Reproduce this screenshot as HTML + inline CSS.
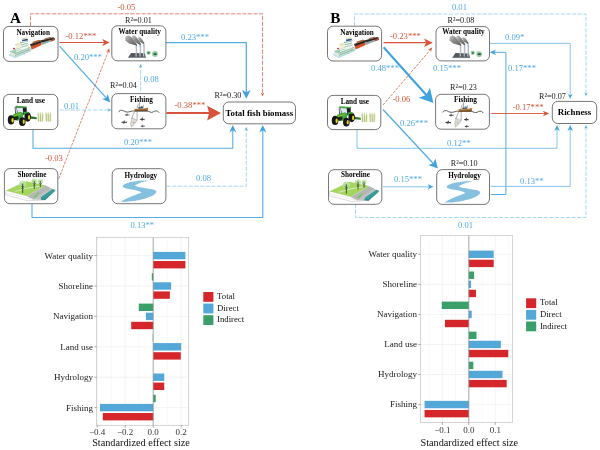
<!DOCTYPE html>
<html><head><meta charset="utf-8"><title>Figure</title>
<style>
html,body{margin:0;padding:0;background:#fff;}
body{width:600px;height:450px;overflow:hidden;font-family:"Liberation Serif",serif;}
svg{display:block;will-change:transform;font-family:"Liberation Serif",serif;}
</style></head><body>
<svg width="600" height="450" viewBox="0 0 600 450">

<text x="10" y="23.2" font-size="15.2" text-anchor="start" fill="#000" font-weight="700">A</text>
<path d="M30.50,26.00 L30.50,13.80 L262.50,13.80 L262.50,93.91" fill="none" stroke="#D7543A" stroke-width="0.7" stroke-dasharray="4.2 1.4"/>
<polygon points="262.50,96.30 260.70,92.50 262.50,93.64 264.30,92.50" fill="#D7543A"/>
<path d="M59.50,42.50 L104.67,42.50" fill="none" stroke="#D7543A" stroke-width="1.2"/>
<polygon points="109.60,42.50 102.30,46.10 104.12,42.50 102.30,38.90" fill="#D7543A"/>
<path d="M59.50,46.20 L106.68,98.39" fill="none" stroke="#52ABE1" stroke-width="1.2"/>
<polygon points="110.30,102.40 102.12,99.01 106.28,97.95 107.75,93.92" fill="#3FA3DE"/>
<path d="M58.70,178.80 L108.44,50.97" fill="none" stroke="#D7543A" stroke-width="0.7" stroke-dasharray="2.9 1.05"/>
<polygon points="109.40,48.50 109.65,53.10 108.33,51.24 106.11,51.73" fill="#D7543A"/>
<path d="M59.50,110.00 L108.91,110.00" fill="none" stroke="#93CDF0" stroke-width="0.8" stroke-dasharray="4.2 1.4"/>
<polygon points="111.30,110.00 107.50,111.80 108.64,110.00 107.50,108.20" fill="#58AFE4"/>
<path d="M140.60,91.00 L140.60,66.39" fill="none" stroke="#93CDF0" stroke-width="0.8" stroke-dasharray="4.2 1.4"/>
<polygon points="140.60,64.00 142.40,67.80 140.60,66.66 138.80,67.80" fill="#58AFE4"/>
<path d="M166.00,42.50 L246.30,42.50 L246.30,92.93" fill="none" stroke="#52ABE1" stroke-width="1.25"/>
<polygon points="246.30,98.80 241.95,90.10 246.30,92.27 250.65,90.10" fill="#3FA3DE"/>
<path d="M166.50,113.10 L210.34,113.10" fill="none" stroke="#D7543A" stroke-width="2.0"/>
<polygon points="220.90,113.10 207.10,120.40 209.17,113.10 207.10,105.80" fill="#D7543A"/>
<path d="M33.00,130.00 L33.00,148.30 L232.80,148.30 L232.80,129.72" fill="none" stroke="#52ABE1" stroke-width="1.05"/>
<polygon points="232.80,125.00 236.30,132.50 232.80,130.25 229.30,132.50" fill="#3FA3DE"/>
<path d="M166.50,186.20 L246.30,186.20 L246.30,129.39" fill="none" stroke="#93CDF0" stroke-width="0.8" stroke-dasharray="4.2 1.4"/>
<polygon points="246.30,127.00 248.10,130.80 246.30,129.66 244.50,130.80" fill="#58AFE4"/>
<path d="M32.00,204.00 L32.00,217.50 L262.80,217.50 L262.80,129.72" fill="none" stroke="#52ABE1" stroke-width="1.05"/>
<polygon points="262.80,125.00 266.30,132.50 262.80,130.25 259.30,132.50" fill="#3FA3DE"/>
<rect x="3.5" y="26.4" width="54.50" height="35.00" rx="5.5" ry="5.5" fill="#fff" stroke="#4a4a4a" stroke-width="0.75"/>
<rect x="111.8" y="25.8" width="54.10" height="35.00" rx="5.5" ry="5.5" fill="#fff" stroke="#4a4a4a" stroke-width="0.75"/>
<rect x="3.5" y="94.4" width="54.30" height="35.10" rx="5.5" ry="5.5" fill="#fff" stroke="#4a4a4a" stroke-width="0.75"/>
<rect x="111.8" y="93.6" width="54.10" height="35.20" rx="5.5" ry="5.5" fill="#fff" stroke="#4a4a4a" stroke-width="0.75"/>
<rect x="4.4" y="168.6" width="53.40" height="35.10" rx="5.5" ry="5.5" fill="#fff" stroke="#4a4a4a" stroke-width="0.75"/>
<rect x="112.2" y="168.7" width="53.70" height="35.00" rx="5.5" ry="5.5" fill="#fff" stroke="#4a4a4a" stroke-width="0.75"/>
<rect x="223.3" y="102" width="72.20" height="21.80" rx="5.5" ry="5.5" fill="#fff" stroke="#4a4a4a" stroke-width="0.75"/>
<text x="33.2" y="34.8" font-size="7.2" text-anchor="middle" fill="#000" font-weight="700">Navigation</text>
<text x="139.7" y="34.0" font-size="7.2" text-anchor="middle" fill="#000" font-weight="700">Water quality</text>
<text x="30.8" y="103.4" font-size="7.2" text-anchor="middle" fill="#000" font-weight="700">Land use</text>
<text x="141.4" y="101.6" font-size="7.2" text-anchor="middle" fill="#000" font-weight="700">Fishing</text>
<text x="32" y="176.7" font-size="7.2" text-anchor="middle" fill="#000" font-weight="700">Shoreline</text>
<text x="140.8" y="177.8" font-size="7.2" text-anchor="middle" fill="#000" font-weight="700">Hydrology</text>
<text x="259.3" y="115.7" font-size="8.8" text-anchor="middle" fill="#000" font-weight="700">Total fish biomass</text>
<text x="117.5" y="10.2" font-size="8.6" text-anchor="start" fill="#D7543A">-0.05</text>
<text x="65.5" y="38.8" font-size="8.6" text-anchor="start" fill="#D7543A">-0.12***</text>
<text x="74" y="59.8" font-size="8.6" text-anchor="start" fill="#4FAAE3">0.20***</text>
<text x="64" y="108.7" font-size="8.6" text-anchor="start" fill="#4FAAE3">0.01</text>
<text x="143.8" y="81.8" font-size="8.6" text-anchor="start" fill="#4FAAE3">0.08</text>
<text x="181" y="39.8" font-size="8.6" text-anchor="start" fill="#4FAAE3">0.23***</text>
<text x="174.5" y="108.2" font-size="8.6" text-anchor="start" fill="#D7543A">-0.38***</text>
<text x="124" y="145.2" font-size="8.6" text-anchor="start" fill="#4FAAE3">0.20***</text>
<text x="45" y="161.3" font-size="8.6" text-anchor="start" fill="#D7543A">-0.03</text>
<text x="196" y="181.3" font-size="8.6" text-anchor="start" fill="#4FAAE3">0.08</text>
<text x="130.5" y="228" font-size="8.6" text-anchor="start" fill="#4FAAE3">0.13**</text>
<text x="125" y="22.8" font-size="8.2" fill="#222">R²=0.01</text>
<text x="110" y="88.3" font-size="8.2" fill="#222">R²=0.04</text>
<text x="214.5" y="98.3" font-size="8.2" fill="#222">R²=0.30</text>
<text x="330.3" y="23.2" font-size="15.2" text-anchor="start" fill="#000" font-weight="700">B</text>
<path d="M354.50,26.00 L354.50,14.00 L586.00,14.00 L586.00,93.91" fill="none" stroke="#93CDF0" stroke-width="0.8" stroke-dasharray="4.2 1.4"/>
<polygon points="586.00,96.30 584.20,92.50 586.00,93.64 587.80,92.50" fill="#58AFE4"/>
<path d="M355.50,204.00 L355.50,217.50 L586.00,217.50 L586.00,127.39" fill="none" stroke="#93CDF0" stroke-width="0.8" stroke-dasharray="4.2 1.4"/>
<polygon points="586.00,125.00 587.80,128.80 586.00,127.66 584.20,128.80" fill="#58AFE4"/>
<path d="M383.50,42.70 L426.86,42.70" fill="none" stroke="#D7543A" stroke-width="1.3"/>
<polygon points="432.80,42.70 424.00,47.00 426.20,42.70 424.00,38.40" fill="#D7543A"/>
<path d="M383.60,47.20 L426.96,95.69" fill="none" stroke="#3FA3DE" stroke-width="2.1"/>
<polygon points="433.40,102.90 418.74,97.76 426.24,94.89 429.93,87.76" fill="#3FA3DE"/>
<path d="M383.00,105.00 L430.48,49.61" fill="none" stroke="#D7543A" stroke-width="0.7" stroke-dasharray="2.9 1.05"/>
<polygon points="432.20,47.60 430.91,52.03 430.29,49.83 428.02,49.55" fill="#D7543A"/>
<path d="M383.00,109.50 L433.76,163.96" fill="none" stroke="#52ABE1" stroke-width="1.3"/>
<polygon points="437.90,168.40 428.22,165.12 433.30,163.46 435.31,158.51" fill="#3FA3DE"/>
<path d="M357.00,130.00 L357.00,148.30 L557.00,148.30 L557.00,128.78" fill="none" stroke="#68B6E6" stroke-width="0.8"/>
<polygon points="557.00,125.00 559.75,131.00 557.00,129.20 554.25,131.00" fill="#3FA3DE"/>
<path d="M383.00,186.80 L429.72,186.80" fill="none" stroke="#68B6E6" stroke-width="0.8"/>
<polygon points="433.50,186.80 427.50,189.55 429.30,186.80 427.50,184.05" fill="#3FA3DE"/>
<path d="M489.50,43.40 L570.20,43.40 L570.20,95.68" fill="none" stroke="#68B6E6" stroke-width="0.8"/>
<polygon points="570.20,98.70 567.90,93.90 570.20,95.34 572.50,93.90" fill="#3FA3DE"/>
<path d="M490.80,194.50 L505.90,194.50 L505.90,52.30 L493.81,52.30" fill="none" stroke="#52ABE1" stroke-width="1.0"/>
<polygon points="489.90,52.30 496.10,49.40 494.24,52.30 496.10,55.20" fill="#3FA3DE"/>
<path d="M491.20,113.50 L545.20,113.50" fill="none" stroke="#D7543A" stroke-width="0.9"/>
<polygon points="549.30,113.50 542.80,116.25 544.75,113.50 542.80,110.75" fill="#D7543A"/>
<path d="M490.80,186.40 L570.20,186.40 L570.20,128.78" fill="none" stroke="#68B6E6" stroke-width="0.8"/>
<polygon points="570.20,125.00 572.95,131.00 570.20,129.20 567.45,131.00" fill="#3FA3DE"/>
<rect x="327.5" y="26.2" width="54.10" height="34.80" rx="5.5" ry="5.5" fill="#fff" stroke="#4a4a4a" stroke-width="0.75"/>
<rect x="436" y="26.6" width="53.50" height="34.30" rx="5.5" ry="5.5" fill="#fff" stroke="#4a4a4a" stroke-width="0.75"/>
<rect x="327.5" y="95.4" width="53.30" height="34.20" rx="5.5" ry="5.5" fill="#fff" stroke="#4a4a4a" stroke-width="0.75"/>
<rect x="435.6" y="94.3" width="53.80" height="34.90" rx="5.5" ry="5.5" fill="#fff" stroke="#4a4a4a" stroke-width="0.75"/>
<rect x="328.5" y="169.7" width="53.30" height="34.60" rx="5.5" ry="5.5" fill="#fff" stroke="#4a4a4a" stroke-width="0.75"/>
<rect x="436.7" y="169.6" width="52.80" height="34.80" rx="5.5" ry="5.5" fill="#fff" stroke="#4a4a4a" stroke-width="0.75"/>
<rect x="552.3" y="101.4" width="44.40" height="22.10" rx="5.5" ry="5.5" fill="#fff" stroke="#4a4a4a" stroke-width="0.75"/>
<text x="357" y="34.8" font-size="7.2" text-anchor="middle" fill="#000" font-weight="700">Navigation</text>
<text x="463.5" y="34.0" font-size="7.2" text-anchor="middle" fill="#000" font-weight="700">Water quality</text>
<text x="354.8" y="103.8" font-size="7.2" text-anchor="middle" fill="#000" font-weight="700">Land use</text>
<text x="465.4" y="101.6" font-size="7.2" text-anchor="middle" fill="#000" font-weight="700">Fishing</text>
<text x="355.5" y="176.8" font-size="7.2" text-anchor="middle" fill="#000" font-weight="700">Shoreline</text>
<text x="464.5" y="178.4" font-size="7.2" text-anchor="middle" fill="#000" font-weight="700">Hydrology</text>
<text x="574.5" y="115.1" font-size="8.9" text-anchor="middle" fill="#000" font-weight="700">Richness</text>
<text x="451.9" y="10.4" font-size="8.6" text-anchor="start" fill="#4FAAE3">0.01</text>
<text x="390" y="38.8" font-size="8.6" text-anchor="start" fill="#D7543A">-0.23***</text>
<text x="371" y="70.8" font-size="8.6" text-anchor="start" fill="#4FAAE3">0.48***</text>
<text x="433" y="70.8" font-size="8.6" text-anchor="start" fill="#4FAAE3">0.15***</text>
<text x="392.5" y="101.8" font-size="8.6" text-anchor="start" fill="#D7543A">-0.06</text>
<text x="400" y="125.9" font-size="8.6" text-anchor="start" fill="#4FAAE3">0.26***</text>
<text x="447" y="145.8" font-size="8.6" text-anchor="start" fill="#4FAAE3">0.12**</text>
<text x="394" y="181.8" font-size="8.6" text-anchor="start" fill="#4FAAE3">0.15***</text>
<text x="505" y="40.1" font-size="8.6" text-anchor="start" fill="#4FAAE3">0.09*</text>
<text x="508" y="71" font-size="8.6" text-anchor="start" fill="#4FAAE3">0.17***</text>
<text x="512.7" y="109.9" font-size="8.6" text-anchor="start" fill="#D7543A">-0.17***</text>
<text x="520" y="183.9" font-size="8.6" text-anchor="start" fill="#4FAAE3">0.13**</text>
<text x="458" y="227.8" font-size="8.6" text-anchor="start" fill="#4FAAE3">0.01</text>
<text x="447.5" y="22.8" font-size="8.2" fill="#222">R²=0.08</text>
<text x="450" y="89.8" font-size="8.2" fill="#222">R²=0.23</text>
<text x="539" y="98.8" font-size="8.2" fill="#222">R²=0.07</text>
<text x="450.8" y="166.1" font-size="8.2" fill="#222">R²=0.10</text>
<defs><g id="icoNav">
<polygon points="8.67,54.90 14.90,58.20 31.76,51.05 29.75,49.40 10.04,53.71" fill="#B5DDEE"/>
<polygon points="10.04,51.23 15.08,53.43 15.08,57.10 10.87,55.08" fill="#DDE7E3"/>
<polygon points="15.08,53.43 30.48,47.38 30.48,50.68 15.08,57.10" fill="#BFDCCD"/>
<polygon points="15.08,54.90 30.48,48.85 30.48,49.58 15.08,55.72" fill="#86B99D"/>
<polygon points="10.04,51.23 24.71,45.73 30.48,47.38 15.08,53.43" fill="#A5CDB8"/>
<polyline points="10.04,51.23 15.08,53.43 30.48,47.38" fill="none" stroke="#6FA88B" stroke-width="0.35"/>
<polygon points="15.82,48.67 28.37,44.27 28.46,47.75 16.18,52.15" fill="#EDF3EF"/>
<polygon points="15.82,48.67 28.37,44.27 28.37,45.00 15.82,49.40" fill="#7FB397"/>
<polyline points="16.09,50.87 28.46,46.56" fill="none" stroke="#8DBDA3" stroke-width="0.5"/>
<polygon points="20.12,42.43 27.64,40.97 28.19,47.57 21.13,49.77" fill="#F1F6F2"/>
<polygon points="20.03,42.25 27.73,40.69 27.82,41.61 20.12,43.26" fill="#79AF92"/>
<polyline points="20.49,45.00 27.91,43.35" fill="none" stroke="#79AF92" stroke-width="0.75"/>
<polyline points="20.77,47.11 28.10,45.37" fill="none" stroke="#79AF92" stroke-width="0.6"/>
<polygon points="22.23,39.13 27.55,38.40 27.82,41.15 22.51,42.07" fill="#E9EFEA"/>
<polygon points="22.05,39.68 27.73,38.86 27.82,40.42 22.23,41.33" fill="#2B4F96"/>
<polygon points="22.60,38.12 27.00,37.48 27.64,38.58 22.32,39.41" fill="#D9D79C"/>
<polygon points="15.27,44.27 20.22,43.35 20.77,47.75 16.00,49.12" fill="#F0EFD6"/>
<polygon points="15.27,44.08 20.22,43.17 20.40,44.45 15.45,45.37" fill="#E2DFB0"/>
<ellipse cx="13.98" cy="48.67" rx="1.01" ry="0.82" fill="#D22B2B"/>
<ellipse cx="24.25" cy="53.98" rx="0.37" ry="0.37" fill="#D44"/>
<ellipse cx="27.91" cy="50.32" rx="0.37" ry="0.37" fill="#D44"/>
<polygon points="30.66,45.73 41.30,42.25 41.76,45.09 31.58,49.77" fill="#D4512B"/>
<polygon points="29.93,44.27 39.83,40.60 41.66,42.52 30.94,46.37" fill="#35302e"/>
<polygon points="32.13,42.07 39.10,39.68 40.75,40.97 33.60,43.53" fill="#A8653E"/>
<polygon points="32.50,44.27 40.56,41.52 41.11,42.25 33.05,45.09" fill="#1f1f1f"/>
<polyline points="30.94,46.37 41.66,42.62" fill="none" stroke="#8a3a22" stroke-width="0.3"/>
<polygon points="41.30,42.43 54.95,38.22 55.05,40.05 41.76,45.09" fill="#90A8A5"/>
<polygon points="50.65,39.68 54.95,38.22 55.05,40.05 51.20,41.42" fill="#C8452B"/>
<polygon points="39.83,40.60 53.40,37.30 55.05,38.22 41.66,42.52" fill="#35302e"/>
<polygon points="44.41,38.40 50.46,36.93 51.56,37.85 45.70,39.50" fill="#A8653E"/>
<polygon points="42.58,41.15 52.66,38.40 53.40,38.95 43.13,41.88" fill="#1f1f1f"/>
</g>
<g id="icoWQ">
<defs><linearGradient id="smk" x1="1" y1="1" x2="0" y2="0"><stop offset="0" stop-color="#5c5c5c"/><stop offset="0.6" stop-color="#8e8e8e"/><stop offset="1" stop-color="#c9c9c9"/></linearGradient></defs>
<polygon points="137.10,46.38 135.38,45.25 129.00,43.38 125.25,40.38 125.40,36.63 128.25,35.13 131.25,37.00 134.25,40.75 136.88,44.13" fill="url(#smk)"/>
<polygon points="140.85,45.40 139.13,44.50 135.00,41.88 132.00,38.50 132.38,35.65 134.63,35.35 137.25,38.13 139.65,41.50 141.00,44.13" fill="url(#smk)"/>
<polygon points="144.38,44.50 142.50,43.38 139.50,41.13 137.85,38.50 138.75,37.00 140.63,37.60 142.50,40.00 144.15,42.63" fill="url(#smk)"/>
<polygon points="131.25,52.90 144.90,53.35 145.88,57.85 128.10,57.85 129.38,55.60" fill="#54595d"/>
<polygon points="128.10,57.25 145.88,57.25 145.88,58.00 128.10,58.00" fill="#8c9196"/>
<polygon points="135.60,46.38 136.65,46.38 136.73,56.50 135.53,56.50" fill="#D3D8E2"/>
<polyline points="136.65,46.38 136.73,56.50" fill="none" stroke="#6f7686" stroke-width="0.45"/>
<polygon points="135.68,46.38 136.58,46.38 136.58,48.25 135.68,48.25" fill="#9db2d8"/>
<polygon points="139.58,45.25 140.63,45.25 140.70,56.50 139.50,56.50" fill="#D3D8E2"/>
<polyline points="140.63,45.25 140.70,56.50" fill="none" stroke="#6f7686" stroke-width="0.45"/>
<polygon points="139.65,45.25 140.55,45.25 140.55,47.13 139.65,47.13" fill="#9db2d8"/>
<polygon points="143.18,44.50 144.23,44.50 144.30,56.50 143.10,56.50" fill="#D3D8E2"/>
<polyline points="144.23,44.50 144.30,56.50" fill="none" stroke="#6f7686" stroke-width="0.45"/>
<polygon points="143.25,44.50 144.15,44.50 144.15,46.38 143.25,46.38" fill="#9db2d8"/>
<ellipse cx="148.50" cy="52.75" rx="2.10" ry="2.10" fill="#8FCB9C"/>
<ellipse cx="148.65" cy="52.90" rx="1.05" ry="0.75" fill="#2f4a38"/>
<ellipse cx="154.95" cy="53.95" rx="2.85" ry="2.85" fill="#8FCB9C"/>
<ellipse cx="155.10" cy="54.10" rx="1.65" ry="0.90" fill="#2f4a38"/>
</g>
<g id="icoLand">
<polygon points="29.70,116.00 36.63,117.30 36.89,119.29 30.13,118.77" fill="#2E7A2C"/>
<polygon points="14.71,106.90 26.66,107.33 26.66,114.70 15.23,114.70" fill="#1d1f1d"/>
<polygon points="16.44,107.51 22.76,107.77 23.20,113.23 18.00,112.71" fill="#DCE7F0"/>
<polygon points="15.23,107.33 16.27,107.51 17.65,112.71 15.83,113.83" fill="#c9d6df"/>
<polygon points="15.57,105.77 26.84,106.47 27.01,107.85 15.40,107.16" fill="#3DA53A"/>
<ellipse cx="27.70" cy="116.86" rx="3.29" ry="4.85" fill="#171717"/>
<ellipse cx="29.09" cy="117.38" rx="1.04" ry="2.43" fill="#E6D61E"/>
<polygon points="23.63,112.10 27.36,111.49 29.70,113.40 25.80,113.23 24.24,115.13" fill="#3DA53A"/>
<polygon points="13.23,114.27 21.03,111.84 23.63,113.83 22.76,117.73 18.00,120.76 13.67,119.64 12.63,116.00" fill="#41AA3D"/>
<polygon points="13.67,116.86 18.00,116.00 18.86,118.60 16.27,120.33 13.67,119.64" fill="#1d2a1c"/>
<polyline points="13.67,116.00 21.03,113.83" fill="none" stroke="#E6D61E" stroke-width="0.5"/>
<ellipse cx="11.07" cy="119.90" rx="3.29" ry="4.59" fill="#171717"/>
<ellipse cx="12.63" cy="120.33" rx="1.13" ry="2.43" fill="#E6D61E"/>
<ellipse cx="22.33" cy="121.63" rx="3.29" ry="4.33" fill="#171717"/>
<ellipse cx="23.72" cy="121.72" rx="1.04" ry="2.25" fill="#E6D61E"/>
<polyline points="38.45,121.20 38.19,113.83" fill="none" stroke="#A2B35A" stroke-width="0.85" stroke-linecap="round"/>
<polyline points="38.97,120.76 38.71,114.70" fill="none" stroke="#B9C777" stroke-width="0.5" stroke-linecap="round"/>
<polyline points="38.28,115.13 38.10,112.36" fill="none" stroke="#CCD89A" stroke-width="0.7" stroke-linecap="round"/>
<polyline points="40.36,121.20 40.36,113.83" fill="none" stroke="#A2B35A" stroke-width="0.85" stroke-linecap="round"/>
<polyline points="40.88,120.76 40.88,114.70" fill="none" stroke="#B9C777" stroke-width="0.5" stroke-linecap="round"/>
<polyline points="40.36,115.13 40.36,112.36" fill="none" stroke="#CCD89A" stroke-width="0.7" stroke-linecap="round"/>
<polyline points="42.26,121.20 42.52,113.83" fill="none" stroke="#A2B35A" stroke-width="0.85" stroke-linecap="round"/>
<polyline points="42.78,120.76 43.04,114.70" fill="none" stroke="#B9C777" stroke-width="0.5" stroke-linecap="round"/>
<polyline points="42.44,115.13 42.61,112.36" fill="none" stroke="#CCD89A" stroke-width="0.7" stroke-linecap="round"/>
<polyline points="46.25,121.20 45.99,113.83" fill="none" stroke="#A2B35A" stroke-width="0.85" stroke-linecap="round"/>
<polyline points="46.77,120.76 46.51,114.70" fill="none" stroke="#B9C777" stroke-width="0.5" stroke-linecap="round"/>
<polyline points="46.07,115.13 45.90,112.36" fill="none" stroke="#CCD89A" stroke-width="0.7" stroke-linecap="round"/>
<polyline points="48.15,121.20 48.15,113.83" fill="none" stroke="#A2B35A" stroke-width="0.85" stroke-linecap="round"/>
<polyline points="48.67,120.76 48.67,114.70" fill="none" stroke="#B9C777" stroke-width="0.5" stroke-linecap="round"/>
<polyline points="48.15,115.13 48.15,112.36" fill="none" stroke="#CCD89A" stroke-width="0.7" stroke-linecap="round"/>
<polyline points="50.06,121.20 50.32,113.83" fill="none" stroke="#A2B35A" stroke-width="0.85" stroke-linecap="round"/>
<polyline points="50.58,120.76 50.84,114.70" fill="none" stroke="#B9C777" stroke-width="0.5" stroke-linecap="round"/>
<polyline points="50.23,115.13 50.41,112.36" fill="none" stroke="#CCD89A" stroke-width="0.7" stroke-linecap="round"/>
</g>
<g id="icoFish">
<path d="M118.60,112.16 C119.80,109.60 122.20,110.00 124.20,111.20 S128.60,112.16 131.00,111.36 S133.80,111.04 135.00,111.20 L147.40,111.20 C149.40,111.20 151.00,113.20 153.00,112.00 S157.00,110.00 159.16,112.64" fill="none" stroke="#262626" stroke-width="0.75"/>
<polygon points="134.20,108.80 139.00,108.96 143.80,108.48 148.28,107.52 147.48,110.88 135.00,111.12" fill="#B27B3A"/>
<polygon points="134.52,110.08 147.80,109.60 147.48,110.88 135.00,111.12" fill="#7C4F22"/>
<polygon points="138.20,107.36 143.00,106.88 143.24,108.48 138.36,108.80" fill="#3F5662"/>
<polygon points="140.60,106.24 142.60,106.08 142.68,107.20 140.68,107.36" fill="#5b6d76"/>
<polyline points="139.40,102.24 139.40,108.80" fill="none" stroke="#3a3a3a" stroke-width="0.4"/>
<polyline points="139.40,102.80 136.28,108.64" fill="none" stroke="#555" stroke-width="0.3"/>
<polyline points="143.48,104.96 143.16,108.00" fill="none" stroke="#3a3a3a" stroke-width="0.35"/>
<polyline points="137.40,104.80 137.72,108.64" fill="none" stroke="#555" stroke-width="0.3"/>
<polyline points="134.68,111.20 131.40,118.80" fill="none" stroke="#333" stroke-width="0.4"/>
<polyline points="137.08,111.36 137.08,120.16" fill="none" stroke="#333" stroke-width="0.4"/>
<polygon points="132.28,117.76 137.16,120.40 134.20,124.40 131.40,126.88 130.52,123.20" fill="#DCDCDC" stroke="#777" stroke-width="0.35"/>
<ellipse cx="133.56" cy="122.40" rx="0.96" ry="0.56" fill="#E09A3A"/>
<polygon points="124.60,114.96 126.04,114.32 127.96,114.48 128.85,114.80 129.40,114.00 129.23,115.15 129.40,115.83 128.60,115.28 127.00,115.60 125.80,115.44" fill="#3a3a3a"/><polygon points="126.52,114.32 127.34,113.14 127.69,114.48" fill="#3a3a3a"/><polygon points="126.40,115.44 126.84,116.50 127.40,115.44" fill="#4a4a4a"/>
<polygon points="120.84,122.24 122.71,121.44 125.21,121.64 126.36,122.04 127.08,121.04 126.86,122.48 127.08,123.33 126.04,122.64 123.96,123.04 122.40,122.84" fill="#3a3a3a"/><polygon points="123.34,121.44 124.41,119.96 124.85,121.64" fill="#3a3a3a"/><polygon points="123.18,122.84 123.75,124.16 124.48,122.84" fill="#4a4a4a"/>
<polygon points="139.64,119.36 141.18,118.56 143.22,118.76 144.17,119.16 144.76,118.16 144.58,119.60 144.76,120.45 143.91,119.76 142.20,120.16 140.92,119.96" fill="#3a3a3a"/><polygon points="141.69,118.56 142.57,117.08 142.93,118.76" fill="#3a3a3a"/><polygon points="141.56,119.96 142.03,121.28 142.63,119.96" fill="#4a4a4a"/>
<polygon points="140.44,126.16 141.74,125.52 143.46,125.68 144.26,126.00 144.76,125.20 144.61,126.35 144.76,127.03 144.04,126.48 142.60,126.80 141.52,126.64" fill="#3a3a3a"/><polygon points="142.17,125.52 142.91,124.34 143.22,125.68" fill="#3a3a3a"/><polygon points="142.06,126.64 142.46,127.70 142.96,126.64" fill="#4a4a4a"/>
</g>
<g id="icoShore">
<polygon points="6.05,190.47 27.33,196.07 33.87,199.33 45.07,199.80 27.80,200.83 5.40,194.85" fill="#ffffff" stroke="#9a9a9a" stroke-width="0.35"/>
<polyline points="5.68,192.80 27.52,198.40 34.05,199.52" fill="none" stroke="#bdbdbd" stroke-width="0.3"/>
<polygon points="6.05,190.47 25.93,181.13 45.53,185.33 27.33,196.07" fill="#A4D65E"/>
<polyline points="15.20,191.49 27.33,188.13 41.33,185.89" fill="none" stroke="#DDECC4" stroke-width="0.9"/>
<polygon points="27.33,196.07 45.53,185.33 52.72,189.07 41.15,197.28 41.15,199.52 34.05,199.33" fill="#C2C2C2"/>
<polyline points="27.33,196.07 34.05,199.33" fill="none" stroke="#8d8d8d" stroke-width="0.3"/>
<polyline points="29.36,194.87 35.92,198.09" fill="none" stroke="#8d8d8d" stroke-width="0.3"/>
<polyline points="31.38,193.68 37.79,196.85" fill="none" stroke="#8d8d8d" stroke-width="0.3"/>
<polyline points="33.40,192.49 39.65,195.60" fill="none" stroke="#8d8d8d" stroke-width="0.3"/>
<polyline points="35.42,191.30 41.52,194.36" fill="none" stroke="#8d8d8d" stroke-width="0.3"/>
<polyline points="37.45,190.10 43.39,193.11" fill="none" stroke="#8d8d8d" stroke-width="0.3"/>
<polyline points="39.47,188.91 45.25,191.87" fill="none" stroke="#8d8d8d" stroke-width="0.3"/>
<polyline points="41.49,187.72 47.12,190.62" fill="none" stroke="#8d8d8d" stroke-width="0.3"/>
<polyline points="43.51,186.53 48.99,189.38" fill="none" stroke="#8d8d8d" stroke-width="0.3"/>
<polyline points="29.01,196.88 46.86,186.03" fill="none" stroke="#9a9a9a" stroke-width="0.25"/>
<polyline points="30.69,197.70 48.19,186.73" fill="none" stroke="#9a9a9a" stroke-width="0.25"/>
<polyline points="32.37,198.52 49.52,187.43" fill="none" stroke="#9a9a9a" stroke-width="0.25"/>
<polygon points="33.12,197.28 37.79,192.43 39.65,192.80 35.27,198.03" fill="#7EC46C"/>
<polygon points="41.15,188.32 44.13,187.01 45.63,187.57 42.45,189.25" fill="#9AD083"/>
<polygon points="40.96,197.09 52.53,189.07 55.52,190.00 45.07,199.89 40.96,199.52" fill="#3A9C9B"/>
<polygon points="40.96,198.40 45.07,198.87 55.52,190.00 55.15,190.93 45.07,199.89 40.96,199.52" fill="#2E8584"/>
<ellipse cx="22.67" cy="184.21" rx="3.55" ry="3.37" fill="#BDE3A6" opacity="0.85"/>
<ellipse cx="21.92" cy="184.77" rx="2.48" ry="2.31" fill="#A9D98F" opacity="0.6"/>
<polyline points="22.67,183.75 22.67,192.99" fill="none" stroke="#2F3B2A" stroke-width="0.85"/>
<polyline points="21.17,185.71 22.67,187.57 24.16,185.89" fill="none" stroke="#2F3B2A" stroke-width="0.595"/>
<polyline points="21.55,187.95 22.67,189.25 23.79,188.13" fill="none" stroke="#2F3B2A" stroke-width="0.4675"/>
<ellipse cx="34.33" cy="181.41" rx="3.08" ry="2.93" fill="#BDE3A6" opacity="0.85"/>
<ellipse cx="33.59" cy="181.97" rx="2.16" ry="2.00" fill="#A9D98F" opacity="0.6"/>
<polyline points="34.33,180.95 34.33,188.79" fill="none" stroke="#2F3B2A" stroke-width="0.75"/>
<polyline points="32.84,182.91 34.33,184.77 35.83,183.09" fill="none" stroke="#2F3B2A" stroke-width="0.5249999999999999"/>
<polyline points="33.21,185.15 34.33,186.45 35.45,185.33" fill="none" stroke="#2F3B2A" stroke-width="0.41250000000000003"/>
<ellipse cx="40.40" cy="181.41" rx="2.61" ry="2.48" fill="#BDE3A6" opacity="0.85"/>
<ellipse cx="39.65" cy="181.97" rx="1.83" ry="1.70" fill="#A9D98F" opacity="0.6"/>
<polyline points="40.40,180.95 40.40,186.92" fill="none" stroke="#2F3B2A" stroke-width="0.65"/>
<polyline points="38.91,182.91 40.40,184.77 41.89,183.09" fill="none" stroke="#2F3B2A" stroke-width="0.45499999999999996"/>
<polyline points="39.28,185.15 40.40,186.45 41.52,185.33" fill="none" stroke="#2F3B2A" stroke-width="0.35750000000000004"/>
</g>
<g id="icoHyd"><path d="M148.60,180.80 C141.40,179.84 122.84,182.40 122.84,186.40 C122.84,189.20 136.60,188.80 141.72,192.48 C135.00,195.20 124.60,198.80 120.76,201.84 C132.60,202.80 156.28,197.20 156.28,191.84 C156.28,188.00 139.00,188.80 134.68,185.60 C138.20,183.36 143.80,181.60 148.60,180.80 Z" fill="#85C1DE"/></g></defs>
<use href="#icoNav"/>
<use href="#icoWQ"/>
<use href="#icoLand"/>
<use href="#icoFish"/>
<use href="#icoShore"/>
<use href="#icoHyd"/>
<use href="#icoNav" transform="translate(324,-0.2)"/>
<use href="#icoWQ" transform="translate(324.2,0.1)"/>
<use href="#icoLand" transform="translate(324,0.5)"/>
<use href="#icoFish" transform="translate(324.1,0.3)"/>
<use href="#icoShore" transform="translate(323.7,0.7)"/>
<use href="#icoHyd" transform="translate(323.9,0.6)"/>
<rect x="96.6" y="237.4" width="92.1" height="187.9" fill="#fff" stroke="none"/>
<line x1="111.20" y1="237.4" x2="111.20" y2="425.3" stroke="#f1f1f1" stroke-width="0.4"/>
<line x1="139.20" y1="237.4" x2="139.20" y2="425.3" stroke="#f1f1f1" stroke-width="0.4"/>
<line x1="167.20" y1="237.4" x2="167.20" y2="425.3" stroke="#f1f1f1" stroke-width="0.4"/>
<line x1="97.20" y1="237.4" x2="97.20" y2="425.3" stroke="#ebebeb" stroke-width="0.6"/>
<line x1="125.20" y1="237.4" x2="125.20" y2="425.3" stroke="#ebebeb" stroke-width="0.6"/>
<line x1="153.20" y1="237.4" x2="153.20" y2="425.3" stroke="#ebebeb" stroke-width="0.6"/>
<line x1="181.20" y1="237.4" x2="181.20" y2="425.3" stroke="#ebebeb" stroke-width="0.6"/>
<line x1="96.6" y1="255.60" x2="188.7" y2="255.60" stroke="#ebebeb" stroke-width="0.6"/>
<line x1="96.6" y1="286.00" x2="188.7" y2="286.00" stroke="#ebebeb" stroke-width="0.6"/>
<line x1="96.6" y1="316.40" x2="188.7" y2="316.40" stroke="#ebebeb" stroke-width="0.6"/>
<line x1="96.6" y1="346.80" x2="188.7" y2="346.80" stroke="#ebebeb" stroke-width="0.6"/>
<line x1="96.6" y1="377.20" x2="188.7" y2="377.20" stroke="#ebebeb" stroke-width="0.6"/>
<line x1="96.6" y1="407.60" x2="188.7" y2="407.60" stroke="#ebebeb" stroke-width="0.6"/>
<rect x="153.20" y="251.90" width="32.20" height="7.4" fill="#53A8D8"/>
<rect x="153.20" y="261.00" width="32.20" height="7.4" fill="#D5272B"/>
<rect x="151.80" y="273.20" width="1.40" height="7.4" fill="#3A9F68"/>
<rect x="153.20" y="282.30" width="17.92" height="7.4" fill="#53A8D8"/>
<rect x="153.20" y="291.40" width="16.66" height="7.4" fill="#D5272B"/>
<rect x="138.78" y="303.60" width="14.42" height="7.4" fill="#3A9F68"/>
<rect x="145.92" y="312.70" width="7.28" height="7.4" fill="#53A8D8"/>
<rect x="131.22" y="321.80" width="21.98" height="7.4" fill="#D5272B"/>
<rect x="152.50" y="334.00" width="0.70" height="7.4" fill="#3A9F68" opacity="0.5"/>
<rect x="153.20" y="343.10" width="28.00" height="7.4" fill="#53A8D8"/>
<rect x="153.20" y="352.20" width="27.58" height="7.4" fill="#D5272B"/>
<rect x="153.20" y="373.50" width="11.06" height="7.4" fill="#53A8D8"/>
<rect x="153.20" y="382.60" width="11.06" height="7.4" fill="#D5272B"/>
<rect x="153.20" y="394.80" width="2.52" height="7.4" fill="#3A9F68"/>
<rect x="100.00" y="403.90" width="53.20" height="7.4" fill="#53A8D8"/>
<rect x="102.80" y="413.00" width="50.40" height="7.4" fill="#D5272B"/>
<line x1="153.2" y1="237.4" x2="153.2" y2="425.3" stroke="#8a8a8a" stroke-width="0.7"/>
<rect x="96.6" y="237.4" width="92.1" height="187.9" fill="none" stroke="#c4c4c4" stroke-width="0.7"/>
<line x1="94.39999999999999" y1="255.60" x2="96.6" y2="255.60" stroke="#555" stroke-width="0.5"/>
<text x="93.1" y="258.5" font-size="9.0" text-anchor="end" fill="#1a1a1a">Water quality</text>
<line x1="94.39999999999999" y1="286.00" x2="96.6" y2="286.00" stroke="#555" stroke-width="0.5"/>
<text x="93.1" y="288.9" font-size="9.0" text-anchor="end" fill="#1a1a1a">Shoreline</text>
<line x1="94.39999999999999" y1="316.40" x2="96.6" y2="316.40" stroke="#555" stroke-width="0.5"/>
<text x="93.1" y="319.29999999999995" font-size="9.0" text-anchor="end" fill="#1a1a1a">Navigation</text>
<line x1="94.39999999999999" y1="346.80" x2="96.6" y2="346.80" stroke="#555" stroke-width="0.5"/>
<text x="93.1" y="349.69999999999993" font-size="9.0" text-anchor="end" fill="#1a1a1a">Land use</text>
<line x1="94.39999999999999" y1="377.20" x2="96.6" y2="377.20" stroke="#555" stroke-width="0.5"/>
<text x="93.1" y="380.09999999999997" font-size="9.0" text-anchor="end" fill="#1a1a1a">Hydrology</text>
<line x1="94.39999999999999" y1="407.60" x2="96.6" y2="407.60" stroke="#555" stroke-width="0.5"/>
<text x="93.1" y="410.5" font-size="9.0" text-anchor="end" fill="#1a1a1a">Fishing</text>
<line x1="97.20" y1="425.3" x2="97.20" y2="427.7" stroke="#555" stroke-width="0.5"/>
<text x="97.19999999999999" y="435.2" font-size="9.0" text-anchor="middle" fill="#333">−0.4</text>
<line x1="125.20" y1="425.3" x2="125.20" y2="427.7" stroke="#555" stroke-width="0.5"/>
<text x="125.19999999999999" y="435.2" font-size="9.0" text-anchor="middle" fill="#333">−0.2</text>
<line x1="153.20" y1="425.3" x2="153.20" y2="427.7" stroke="#555" stroke-width="0.5"/>
<text x="153.2" y="435.2" font-size="9.0" text-anchor="middle" fill="#333">0.0</text>
<line x1="181.20" y1="425.3" x2="181.20" y2="427.7" stroke="#555" stroke-width="0.5"/>
<text x="181.2" y="435.2" font-size="9.0" text-anchor="middle" fill="#333">0.2</text>
<text x="141" y="445.6" font-size="10.25" text-anchor="middle" fill="#111">Standardized effect size</text>
<rect x="203.3" y="292.00" width="10.1" height="9.8" fill="#D5272B"/>
<text x="217.10000000000002" y="299.0" font-size="8.7" text-anchor="start" fill="#111">Total</text>
<rect x="203.3" y="303.60" width="10.1" height="9.8" fill="#53A8D8"/>
<text x="217.10000000000002" y="310.6" font-size="8.7" text-anchor="start" fill="#111">Direct</text>
<rect x="203.3" y="315.20" width="10.1" height="9.8" fill="#3A9F68"/>
<text x="217.10000000000002" y="322.2" font-size="8.7" text-anchor="start" fill="#111">Indirect</text>
<rect x="420.5" y="235.5" width="92.10000000000002" height="187.0" fill="#fff" stroke="none"/>
<line x1="429.05" y1="235.5" x2="429.05" y2="422.5" stroke="#f1f1f1" stroke-width="0.4"/>
<line x1="455.55" y1="235.5" x2="455.55" y2="422.5" stroke="#f1f1f1" stroke-width="0.4"/>
<line x1="482.05" y1="235.5" x2="482.05" y2="422.5" stroke="#f1f1f1" stroke-width="0.4"/>
<line x1="508.55" y1="235.5" x2="508.55" y2="422.5" stroke="#f1f1f1" stroke-width="0.4"/>
<line x1="442.30" y1="235.5" x2="442.30" y2="422.5" stroke="#ebebeb" stroke-width="0.6"/>
<line x1="468.80" y1="235.5" x2="468.80" y2="422.5" stroke="#ebebeb" stroke-width="0.6"/>
<line x1="495.30" y1="235.5" x2="495.30" y2="422.5" stroke="#ebebeb" stroke-width="0.6"/>
<line x1="420.5" y1="254.30" x2="512.6" y2="254.30" stroke="#ebebeb" stroke-width="0.6"/>
<line x1="420.5" y1="284.35" x2="512.6" y2="284.35" stroke="#ebebeb" stroke-width="0.6"/>
<line x1="420.5" y1="314.40" x2="512.6" y2="314.40" stroke="#ebebeb" stroke-width="0.6"/>
<line x1="420.5" y1="344.45" x2="512.6" y2="344.45" stroke="#ebebeb" stroke-width="0.6"/>
<line x1="420.5" y1="374.50" x2="512.6" y2="374.50" stroke="#ebebeb" stroke-width="0.6"/>
<line x1="420.5" y1="404.55" x2="512.6" y2="404.55" stroke="#ebebeb" stroke-width="0.6"/>
<rect x="468.80" y="250.60" width="24.91" height="7.4" fill="#53A8D8"/>
<rect x="468.80" y="259.70" width="24.91" height="7.4" fill="#D5272B"/>
<rect x="468.80" y="271.55" width="5.30" height="7.4" fill="#3A9F68"/>
<rect x="468.80" y="280.65" width="2.25" height="7.4" fill="#53A8D8"/>
<rect x="468.80" y="289.75" width="7.16" height="7.4" fill="#D5272B"/>
<rect x="441.77" y="301.60" width="27.03" height="7.4" fill="#3A9F68"/>
<rect x="468.80" y="310.70" width="2.92" height="7.4" fill="#53A8D8"/>
<rect x="444.95" y="319.80" width="23.85" height="7.4" fill="#D5272B"/>
<rect x="468.80" y="331.65" width="7.69" height="7.4" fill="#3A9F68"/>
<rect x="468.80" y="340.75" width="32.06" height="7.4" fill="#53A8D8"/>
<rect x="468.80" y="349.85" width="39.48" height="7.4" fill="#D5272B"/>
<rect x="468.80" y="361.70" width="4.50" height="7.4" fill="#3A9F68"/>
<rect x="468.80" y="370.80" width="33.66" height="7.4" fill="#53A8D8"/>
<rect x="468.80" y="379.90" width="37.89" height="7.4" fill="#D5272B"/>
<rect x="424.55" y="400.85" width="44.26" height="7.4" fill="#53A8D8"/>
<rect x="424.55" y="409.95" width="44.26" height="7.4" fill="#D5272B"/>
<line x1="468.8" y1="235.5" x2="468.8" y2="422.5" stroke="#8a8a8a" stroke-width="0.7"/>
<rect x="420.5" y="235.5" width="92.10000000000002" height="187.0" fill="none" stroke="#c4c4c4" stroke-width="0.7"/>
<line x1="418.3" y1="254.30" x2="420.5" y2="254.30" stroke="#555" stroke-width="0.5"/>
<text x="417.0" y="257.2" font-size="9.0" text-anchor="end" fill="#1a1a1a">Water quality</text>
<line x1="418.3" y1="284.35" x2="420.5" y2="284.35" stroke="#555" stroke-width="0.5"/>
<text x="417.0" y="287.25" font-size="9.0" text-anchor="end" fill="#1a1a1a">Shoreline</text>
<line x1="418.3" y1="314.40" x2="420.5" y2="314.40" stroke="#555" stroke-width="0.5"/>
<text x="417.0" y="317.3" font-size="9.0" text-anchor="end" fill="#1a1a1a">Navigation</text>
<line x1="418.3" y1="344.45" x2="420.5" y2="344.45" stroke="#555" stroke-width="0.5"/>
<text x="417.0" y="347.35" font-size="9.0" text-anchor="end" fill="#1a1a1a">Land use</text>
<line x1="418.3" y1="374.50" x2="420.5" y2="374.50" stroke="#555" stroke-width="0.5"/>
<text x="417.0" y="377.4" font-size="9.0" text-anchor="end" fill="#1a1a1a">Hydrology</text>
<line x1="418.3" y1="404.55" x2="420.5" y2="404.55" stroke="#555" stroke-width="0.5"/>
<text x="417.0" y="407.45" font-size="9.0" text-anchor="end" fill="#1a1a1a">Fishing</text>
<line x1="442.30" y1="422.5" x2="442.30" y2="424.9" stroke="#555" stroke-width="0.5"/>
<text x="442.3" y="433.2" font-size="9.0" text-anchor="middle" fill="#333">−0.1</text>
<line x1="468.80" y1="422.5" x2="468.80" y2="424.9" stroke="#555" stroke-width="0.5"/>
<text x="468.8" y="433.2" font-size="9.0" text-anchor="middle" fill="#333">0.0</text>
<line x1="495.30" y1="422.5" x2="495.30" y2="424.9" stroke="#555" stroke-width="0.5"/>
<text x="495.3" y="433.2" font-size="9.0" text-anchor="middle" fill="#333">0.1</text>
<text x="469.3" y="445.6" font-size="10.25" text-anchor="middle" fill="#111">Standardized effect size</text>
<rect x="526.1" y="298.30" width="10.1" height="9.8" fill="#D5272B"/>
<text x="539.9" y="305.3" font-size="8.7" text-anchor="start" fill="#111">Total</text>
<rect x="526.1" y="309.90" width="10.1" height="9.8" fill="#53A8D8"/>
<text x="539.9" y="316.90000000000003" font-size="8.7" text-anchor="start" fill="#111">Direct</text>
<rect x="526.1" y="321.50" width="10.1" height="9.8" fill="#3A9F68"/>
<text x="539.9" y="328.5" font-size="8.7" text-anchor="start" fill="#111">Indirect</text>
</svg>
</body></html>
